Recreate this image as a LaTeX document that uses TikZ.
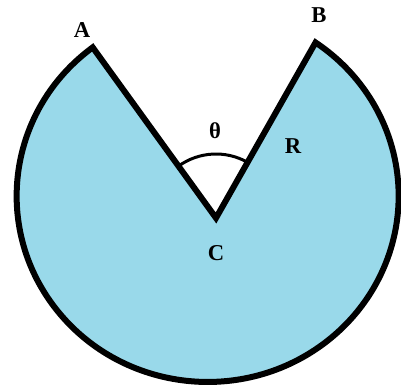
\documentclass[tikz,border=0pt]{standalone}
\usepackage{fontspec}
\setmainfont{Liberation Serif}
\definecolor{paintblue}{RGB}{153,217,234}
\tikzset{
  lbl/.style={font=\fontsize{17}{19}\selectfont\bfseries, inner sep=0pt},
  rim/.style={line width=4.5pt, line join=miter, draw=black, fill=paintblue}
}
\begin{document}
\begin{tikzpicture}[x=0.75pt,y=0.75pt]
\useasboundingbox (0,0) rectangle (401,387);

\coordinate (O) at (207,191);
\coordinate (C) at (216,169);
\coordinate (A) at (92.7,339.6);
\coordinate (B) at (314.3,344.5);

% disc with the wedge cut out
\draw[rim] (C) -- (A) arc[start angle=127, end angle=415.6, x radius=191, y radius=186] -- cycle;

% angle mark
\draw[line width=2.25pt] (C) ++(125.9:64) arc[start angle=125.9, end angle=60.75, radius=64];

\node[lbl] (la) at (82,357) {A};
\node[lbl] (lb) at (319,372) {B};
\node[lbl] (lt) at (215,256) {θ};
\node[lbl] (lr) at (293,241) {R};
\node[lbl] (lc) at (216,134) {C};
\end{tikzpicture}
\end{document}
